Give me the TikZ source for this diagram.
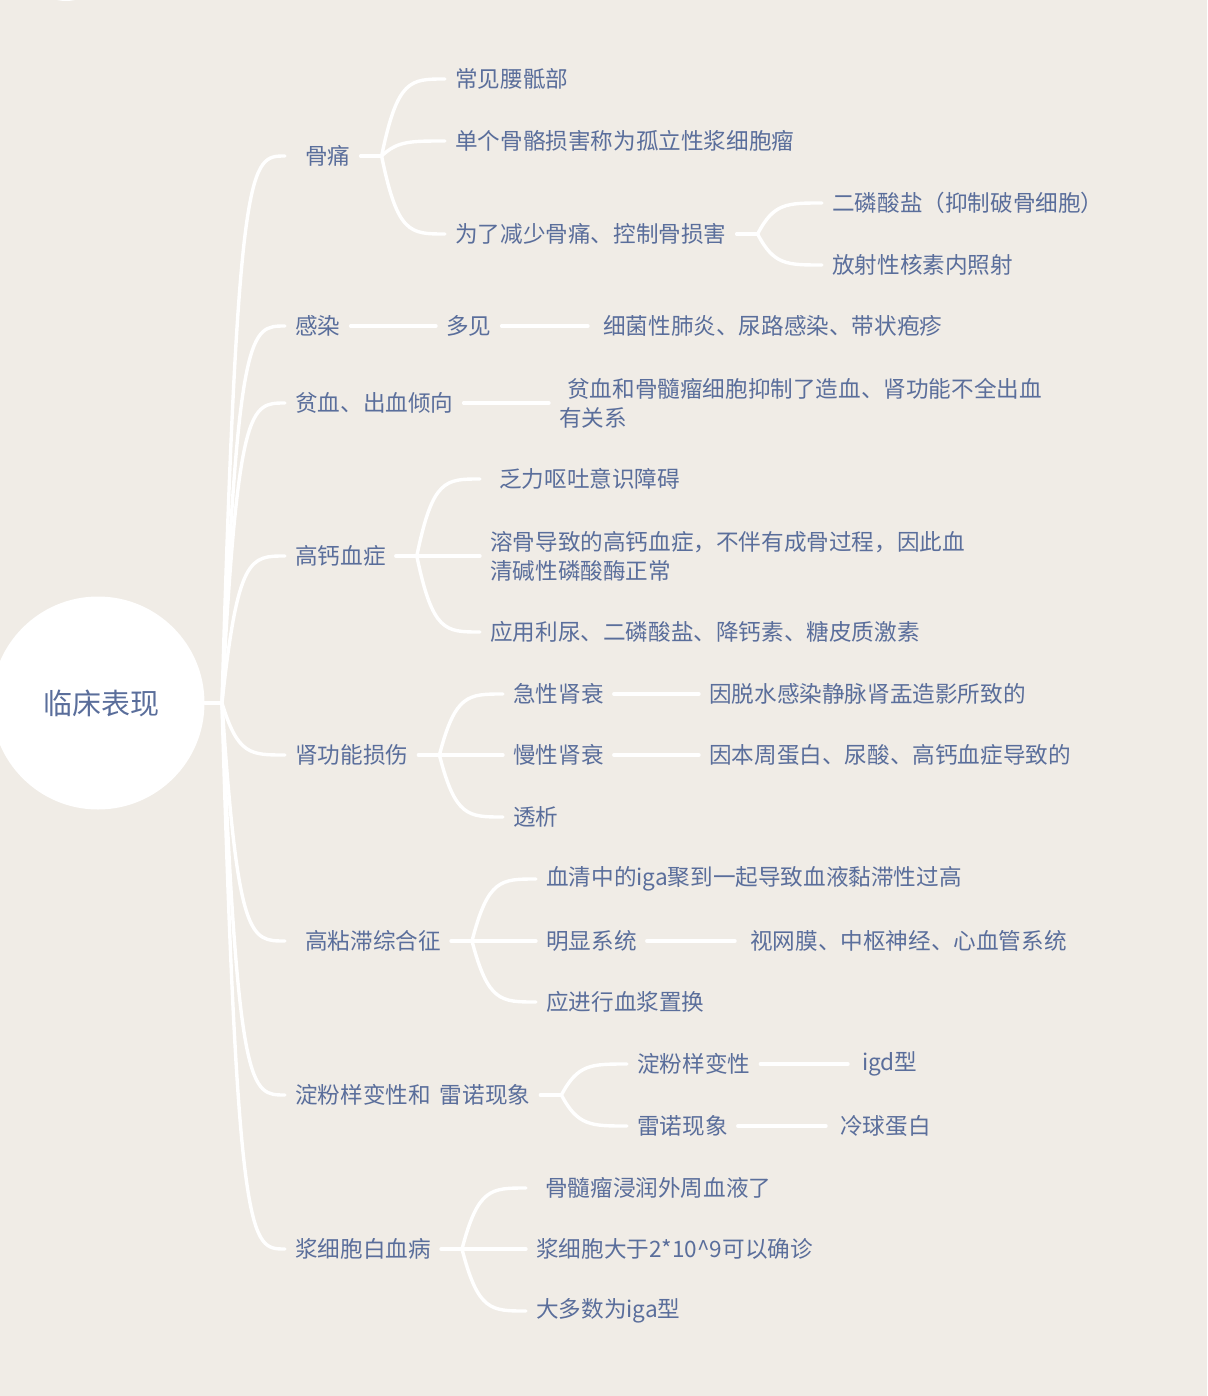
\documentclass[tikz,border=0pt]{standalone}
\usepackage{fontspec}
\setmainfont{Noto Sans CJK SC}
\usetikzlibrary{calc}
\definecolor{bg}{HTML}{F0ECE6}
\definecolor{txt}{HTML}{5A6E9B}
\begin{document}
\begin{tikzpicture}[x=1pt,y=-1pt,
  t/.style={anchor=west, inner xsep=10pt, inner ysep=0pt, text=txt, font=\fontsize{22.6}{29}\selectfont, align=left},
  ln/.style={draw=white, line width=3.4pt, line cap=round},
  branch/.style={to path={let \p1=(\tikztostart), \p2=(\tikztotarget) in
     .. controls ({\x1+0.25*(\x2-\x1)},\y2) and ({\x1+0.45*(\x2-\x1)},\y2) .. (\tikztotarget)}}]
\useasboundingbox (0,0) rectangle (1207,1396);
\fill[bg] (0,0) rectangle (1207,1396);
\fill[white] (66,-40) circle (41);

% root
\node[circle, fill=white, minimum size=213pt, inner sep=0pt, text=txt, font=\fontsize{29}{35}\selectfont] (root) at (98,703) {\hspace*{6pt}临床表现};
\coordinate (hub) at (222,703);

% level 1
\node[t] (A) at (285,156) {\hspace*{10pt}骨痛};
\node[t] (B) at (285,326) {感染};
\node[t] (C) at (285,403) {贫血、出血倾向};
\node[t] (D) at (285,556) {高钙血症};
\node[t] (E) at (285,755) {肾功能损伤};
\node[t] (F) at (285,941) {\hspace*{10pt}高粘滞综合征};
\node[t] (G) at (285,1095) {淀粉样变性和\hspace{9pt}雷诺现象};
\node[t] (H) at (285,1249) {浆细胞白血病};

% A
\coordinate (Aj) at ([xshift=21pt]A.east);
\node[t] (A1) at (445,79) {常见腰骶部};
\node[t] (A2) at (445,141) {单个骨骼损害称为孤立性浆细胞瘤};
\node[t] (A3) at (445,234) {为了减少骨痛、控制骨损害};
\coordinate (A3j) at ([xshift=21pt]A3.east);
\node[t] (A31) at (822,203) {二磷酸盐（抑制破骨细胞）};
\node[t] (A32) at (822,265) {放射性核素内照射};

% B
\node[t] (B1) at (436,326) {多见};
\node[t] (B2) at (588,326) {\hspace*{5pt}细菌性肺炎、尿路感染、带状疱疹};

% C
\node[t] (C1) at (549,403) {\hspace*{8pt}贫血和骨髓瘤细胞抑制了造血、肾功能不全出血\\有关系};

% D
\coordinate (Dj) at ([xshift=21pt]D.east);
\node[t] (D1) at (480,479) {\hspace*{9pt}乏力呕吐意识障碍};
\node[t] (D2) at (480,556) {溶骨导致的高钙血症，不伴有成骨过程，因此血\\清碱性磷酸酶正常};
\node[t] (D3) at (480,632) {应用利尿、二磷酸盐、降钙素、糖皮质激素};

% E
\coordinate (Ej) at ([xshift=21pt]E.east);
\node[t] (E1) at (503,694) {急性肾衰};
\node[t] (E11) at (699,694) {因脱水感染静脉肾盂造影所致的};
\node[t] (E2) at (503,755) {慢性肾衰};
\node[t] (E21) at (699,755) {因本周蛋白、尿酸、高钙血症导致的};
\node[t] (E3) at (503,817) {透析};

% F
\coordinate (Fj) at ([xshift=21pt]F.east);
\node[t] (F1) at (536,879) {血清中的iga聚到一起导致血液黏滞性过高};
\node[t] (F2) at (536,941) {明显系统};
\node[t] (F21) at (735,941) {\hspace*{5pt}视网膜、中枢神经、心血管系统};
\node[t] (F3) at (536,1002) {应进行血浆置换};

% G
\coordinate (Gj) at ([xshift=21pt]G.east);
\node[t] (G1) at (627,1064) {淀粉样变性};
\node[t] (G11) at (848,1064) {\hspace*{4pt}igd型};
\node[t] (G2) at (627,1126) {雷诺现象};
\node[t] (G21) at (826,1126) {\hspace*{4pt}冷球蛋白};

% H
\coordinate (Hj) at ([xshift=21pt]H.east);
\node[t] (H1) at (526,1188) {\hspace*{9pt}骨髓瘤浸润外周血液了};
\node[t] (H2) at (526,1249) {浆细胞大于2*10\textasciicircum 9可以确诊};
\node[t] (H3) at (526,1311) {大多数为iga型};

% connectors
\draw[ln] (root.east) -- (hub);
\foreach \k in {A,B,C,D,E,F,G,H} \draw[ln] (hub) to[branch] (\k.west);

\draw[ln] (A.east) -- (Aj);
\foreach \k in {A1,A2,A3} \draw[ln] (Aj) to[branch] (\k.west);
\draw[ln] (A3.east) -- (A3j);
\foreach \k in {A31,A32} \draw[ln] (A3j) to[branch] (\k.west);

\draw[ln] (B.east) -- (B1.west);
\draw[ln] (B1.east) -- (B2.west);
\draw[ln] (C.east) -- (C1.west);

\draw[ln] (D.east) -- (Dj);
\foreach \k in {D1,D2,D3} \draw[ln] (Dj) to[branch] (\k.west);

\draw[ln] (E.east) -- (Ej);
\foreach \k in {E1,E2,E3} \draw[ln] (Ej) to[branch] (\k.west);
\draw[ln] (E1.east) -- (E11.west);
\draw[ln] (E2.east) -- (E21.west);

\draw[ln] (F.east) -- (Fj);
\foreach \k in {F1,F2,F3} \draw[ln] (Fj) to[branch] (\k.west);
\draw[ln] (F2.east) -- (F21.west);

\draw[ln] (G.east) -- (Gj);
\foreach \k in {G1,G2} \draw[ln] (Gj) to[branch] (\k.west);
\draw[ln] (G1.east) -- (G11.west);
\draw[ln] (G2.east) -- (G21.west);

\draw[ln] (H.east) -- (Hj);
\foreach \k in {H1,H2,H3} \draw[ln] (Hj) to[branch] (\k.west);
\end{tikzpicture}
\end{document}
